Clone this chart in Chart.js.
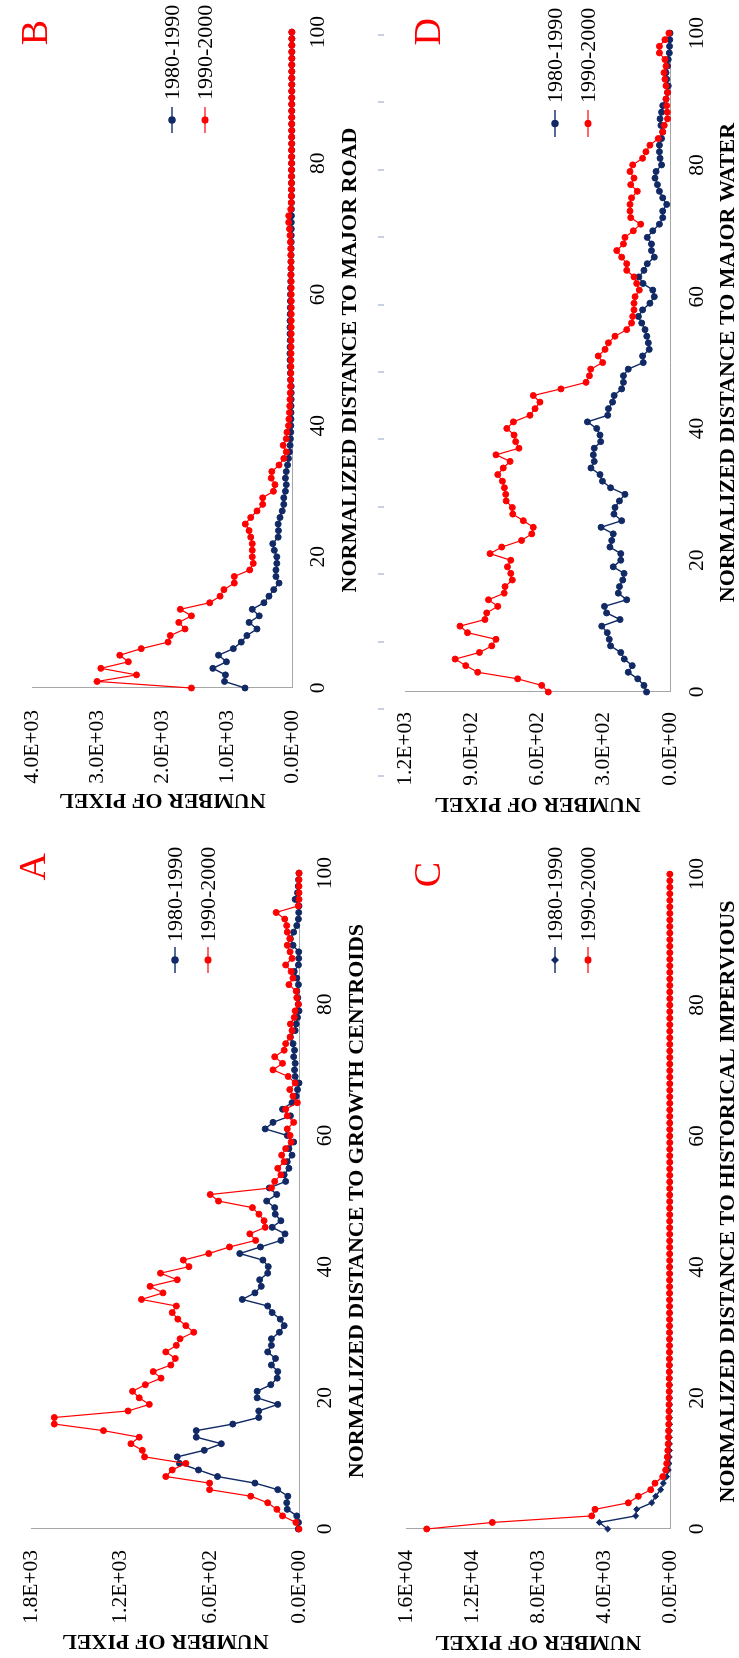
<!DOCTYPE html>
<html>
<head>
<meta charset="utf-8">
<title>Number of pixel by normalized distance</title>
<script src="https://cdn.jsdelivr.net/npm/chart.js@4.4.1/dist/chart.umd.min.js"></script>
<style>
  html, body { margin: 0; padding: 0; background: #fff; }
  body { width: 739px; height: 1658px; position: relative; overflow: hidden; }
  .panel { position: absolute; height: 817px; }
  /* every chart is drawn upright, then turned a quarter turn to the left like the scanned figure */
  .panel canvas { position: absolute; left: 0; top: 0; transform-origin: 0 0; transform: translate(0, 817px) rotate(-90deg); }
  .dashes { position: absolute; left: 378px; top: 34px; width: 6px; height: 746px;
    background: repeating-linear-gradient(to bottom, #c8d0e2 0px, #c8d0e2 2px, transparent 2px, transparent 67.4px); }
</style>
</head>
<body>
<div class="panel" style="left:0;top:0;width:370px"><canvas id="chartB" width="817" height="370"></canvas></div>
<div class="panel" style="left:370px;top:0;width:369px"><canvas id="chartD" width="817" height="369"></canvas></div>
<div class="panel" style="left:0;top:841px;width:370px"><canvas id="chartA" width="817" height="370"></canvas></div>
<div class="panel" style="left:370px;top:841px;width:369px"><canvas id="chartC" width="817" height="369"></canvas></div>
<div class="dashes"></div>
<script>
// normalized distance 0..100, one point per unit
const distance = Array.from({ length: 101 }, (_, i) => i);

// A - growth centroids
const growth1980 = [
  5, 3, 15, 79, 83, 75, 143, 297, 549, 677,
  805, 820, 638, 523, 692, 692, 446, 271, 271, 143,
  282, 282, 190, 147, 143, 186, 158, 211, 186, 186,
  132, 100, 126, 181, 211, 382, 297, 254, 265, 211,
  207, 243, 399, 260, 122, 94, 181, 122, 160, 164,
  218, 150, 200, 90, 100, 68, 79, 47, 68, 36,
  79, 228, 175, 58, 111, 47, 19, 10, 0, 26,
  30, 26, 36, 30, 40, 58, 26, 19, 10, 0,
  5, 8, 15, 4, 15, 32, 4, 2, 2, 40,
  58, 36, 15, 4, 2, 0, 26, 10, 5, 3,
  0
];
const growth1990 = [
  0, 21, 111, 149, 211, 325, 602, 602, 897, 854,
  762, 1040, 1055, 1132, 1076, 1317, 1648, 1648, 1151, 1008,
  1076, 1121, 1035, 929, 982, 863, 833, 897, 826, 801,
  709, 762, 816, 854, 826, 1061, 916, 1003, 820, 933,
  741, 779, 608, 468, 292, 331, 228, 235, 270, 314,
  542, 598, 186, 164, 122, 143, 100, 117, 90, 53,
  60, 79, 36, 79, 90, 11, 41, 62, 26, 73,
  175, 111, 164, 100, 90, 60, 47, 58, 32, 26,
  4, 15, 19, 68, 41, 53, 90, 47, 60, 79,
  62, 79, 83, 96, 154, 5, 0, 0, 0, 0,
  0
];

// B - major road
const road1980 = [
  725, 1041, 1027, 1221, 1012, 1134, 905, 783, 696, 540,
  662, 506, 613, 433, 355, 282, 200, 248, 248, 234,
  234, 272, 297, 214, 209, 214, 185, 151, 127, 127,
  102, 88, 102, 88, 68, 54, 39, 29, 25, 20,
  18, 16, 15, 14, 13, 12, 12, 22, 25, 28,
  30, 32, 30, 28, 30, 32, 30, 28, 26, 25,
  24, 22, 20, 18, 16, 15, 14, 13, 12, 11,
  10, 10, 9, 9, 8, 8, 7, 7, 6, 6,
  6, 5, 5, 5, 5, 4, 4, 4, 4, 4,
  3, 3, 3, 3, 3, 3, 2, 2, 2, 2,
  2
];
const road1990 = [
  1552, 3007, 2399, 2949, 2525, 2657, 2326, 1912, 1878, 1650,
  1747, 1552, 1723, 1270, 1109, 1051, 890, 890, 652, 598,
  613, 613, 613, 637, 662, 720, 637, 540, 453, 453,
  287, 263, 321, 311, 200, 126, 88, 136, 88, 78,
  54, 48, 40, 35, 30, 26, 22, 20, 18, 17,
  16, 15, 14, 14, 13, 13, 12, 12, 11, 11,
  12, 12, 13, 14, 15, 16, 18, 20, 24, 30,
  38, 52, 50, 20, 10, 9, 8, 8, 7, 7,
  6, 6, 6, 5, 5, 5, 5, 4, 4, 4,
  4, 4, 3, 3, 3, 3, 3, 3, 2, 2,
  2
];

// C - historical impervious
const impervious1980 = [
  3777, 4282, 2081, 2020, 1111, 869, 566, 404, 202, 101,
  60, 45, 35, 30, 26, 23, 20, 18, 16, 15,
  14, 13, 12, 12, 11, 11, 10, 10, 10, 9,
  9, 9, 8, 8, 8, 8, 7, 7, 7, 7,
  7, 6, 6, 6, 6, 6, 6, 5, 5, 5,
  5, 5, 5, 5, 5, 4, 4, 4, 4, 4,
  4, 4, 4, 4, 4, 3, 3, 3, 3, 3,
  3, 3, 3, 3, 3, 3, 3, 3, 2, 2,
  2, 2, 2, 2, 2, 2, 2, 2, 2, 2,
  2, 2, 2, 2, 1, 1, 1, 1, 1, 1,
  1
];
const impervious1990 = [
  14746, 10767, 4747, 4545, 2525, 1919, 1172, 909, 444, 263,
  202, 160, 130, 110, 95, 85, 75, 68, 62, 57,
  52, 48, 45, 42, 40, 38, 36, 34, 32, 31,
  30, 29, 28, 27, 26, 25, 25, 24, 24, 23,
  23, 22, 22, 21, 21, 20, 20, 20, 19, 19,
  18, 18, 18, 17, 17, 17, 16, 16, 16, 15,
  15, 15, 15, 14, 14, 14, 14, 13, 13, 13,
  13, 13, 12, 12, 12, 12, 12, 11, 11, 11,
  11, 11, 11, 10, 10, 10, 10, 10, 10, 10,
  9, 9, 9, 9, 9, 9, 9, 9, 8, 8,
  8
];

// D - major water
const water1980 = [
  106, 118, 146, 189, 171, 207, 223, 269, 275, 284,
  309, 226, 287, 297, 196, 234, 229, 214, 208, 257,
  223, 223, 272, 264, 257, 312, 219, 254, 249, 229,
  204, 269, 306, 317, 358, 343, 347, 343, 314, 317,
  332, 374, 282, 279, 260, 253, 219, 211, 211, 189,
  121, 124, 94, 98, 105, 113, 128, 143, 124, 91,
  71, 78, 122, 141, 118, 103, 71, 84, 84, 103,
  78, 48, 33, 33, 15, 33, 48, 57, 68, 63,
  38, 45, 48, 48, 38, 33, 41, 45, 38, 33,
  18, 11, 8, 15, 18, 11, 8, 3, 2, 1,
  0
];
const water1990 = [
  551, 581, 690, 871, 925, 973, 863, 807, 788, 917,
  951, 838, 830, 780, 822, 751, 747, 714, 721, 736,
  721, 815, 762, 672, 626, 619, 664, 712, 714, 742,
  744, 750, 759, 780, 755, 724, 788, 684, 699, 706,
  739, 709, 634, 611, 589, 619, 494, 380, 365, 359,
  305, 325, 294, 279, 249, 196, 174, 169, 163, 163,
  158, 139, 151, 163, 196, 196, 219, 241, 211, 204,
  166, 133, 178, 181, 181, 174, 148, 178, 163, 181,
  169, 124, 109, 91, 53, 33, 26, 11, 12, 15,
  18, 11, 18, 23, 27, 18, 23, 48, 48, 23,
  5
];

const seriesNames = ['1980-1990', '1990-2000'];

const BLUE = '#112a66';
const RED = '#ff0000';
const AXIS = '#a6a6a6';
const SERIF = '"Liberation Serif", "Times New Roman", serif';
const W = 817;

function sci(v) {
  const [m, e] = Number(v).toExponential(1).split('e');
  const n = Math.abs(parseInt(e, 10));
  return m + 'E' + (e[0] === '-' ? '-' : '+') + String(n).padStart(2, '0');
}

function toPoints(values) {
  return values.map((v, i) => ({ x: distance[i], y: v }));
}

// panel letter and the legend, drawn in the upright chart before it is turned
const decor = {
  id: 'decor',
  afterDraw(chart, args, opts) {
    const ctx = chart.ctx;
    ctx.save();
    ctx.fillStyle = RED;
    ctx.font = '38px ' + SERIF;
    ctx.textAlign = 'right';
    ctx.textBaseline = 'alphabetic';
    ctx.fillText(opts.letter, opts.letterX, opts.letterY);

    chart.data.datasets.forEach((ds, i) => {
      const y = opts.rows[i];
      ctx.strokeStyle = ds.borderColor;
      ctx.lineWidth = ds.borderWidth;
      ctx.beginPath();
      ctx.moveTo(opts.lineFrom, y);
      ctx.lineTo(opts.lineTo, y);
      ctx.stroke();
      Chart.helpers.drawPoint(ctx, {
        pointStyle: ds.pointStyle, radius: ds.pointRadius, borderWidth: 1, rotation: 0
      }, (opts.lineFrom + opts.lineTo) / 2, y);
      ctx.fillStyle = ds.borderColor;
      ctx.fill();
      ctx.fillStyle = '#000';
      ctx.font = '22px ' + SERIF;
      ctx.textAlign = 'left';
      ctx.textBaseline = 'middle';
      ctx.fillText(ds.label, opts.textAt, y + 1);
    });
    ctx.restore();
  }
};

function makeChart(p) {
  const H = p.height;
  const tickFont = { family: SERIF, size: 21.5, lineHeight: 1 };
  const titleFont = { family: SERIF, size: 22, weight: 'bold', lineHeight: 1 };
  return new Chart(document.getElementById(p.canvas), {
    type: 'line',
    data: {
      datasets: [
        {
          label: seriesNames[0], data: toPoints(p.older), order: 1,
          borderColor: BLUE, backgroundColor: BLUE, borderWidth: 1.4,
          pointStyle: p.olderMarker, pointRadius: 3, pointBorderWidth: 1,
          pointBackgroundColor: BLUE, pointBorderColor: BLUE, tension: 0, clip: false
        },
        {
          label: seriesNames[1], data: toPoints(p.newer), order: 0,
          borderColor: RED, backgroundColor: RED, borderWidth: 1.2,
          pointStyle: 'circle', pointRadius: 3, pointBorderWidth: 1,
          pointBackgroundColor: RED, pointBorderColor: RED, tension: 0, clip: false
        }
      ]
    },
    options: {
      responsive: false,
      animation: false,
      devicePixelRatio: 1,
      layout: { padding: { left: 0, top: p.area.top, right: W - p.area.right, bottom: 0 } },
      plugins: {
        legend: { display: false },
        tooltip: { enabled: false },
        decor: p.decor
      },
      scales: {
        x: {
          type: 'linear', min: 0, max: 100,
          ticks: { stepSize: 20, padding: p.xTickPad, font: tickFont, color: '#000', maxRotation: 0, autoSkip: false },
          grid: { display: false, drawTicks: false },
          border: { color: AXIS, width: 1 },
          title: { display: true, text: p.xTitle, font: titleFont, color: '#000', padding: { top: 0, bottom: p.xTitlePad } },
          afterFit: (s) => { s.height = H - p.area.bottom; }
        },
        y: {
          type: 'linear', min: 0, max: p.yMax,
          ticks: { stepSize: p.yStep, padding: p.yTickPad, font: tickFont, color: '#000', callback: sci },
          grid: { display: false, drawTicks: false },
          border: { color: AXIS, width: 1 },
          title: { display: true, text: 'NUMBER OF PIXEL', font: titleFont, color: '#000', padding: { top: p.yTitlePad, bottom: 0 } },
          afterFit: (s) => { s.width = p.area.left; }
        }
      }
    },
    plugins: [decor]
  });
}

makeChart({
  canvas: 'chartB', height: 370, older: road1980, newer: road1990, olderMarker: 'circle',
  yMax: 4000, yStep: 1000, xTitle: 'NORMALIZED DISTANCE TO MAJOR ROAD',
  area: { left: 129, right: 794, top: 18, bottom: 292 },
  xTickPad: 16, xTitlePad: 9, yTickPad: 22, yTitlePad: 6,
  decor: { letter: 'B', letterX: 797, letterY: 47, rows: [172, 205], lineFrom: 684, lineTo: 710, textAt: 717 }
});

makeChart({
  canvas: 'chartD', height: 369, older: water1980, newer: water1990, olderMarker: 'circle',
  yMax: 1200, yStep: 300, xTitle: 'NORMALIZED DISTANCE TO MAJOR WATER',
  area: { left: 125, right: 790, top: 35, bottom: 300 },
  xTickPad: 17, xTitlePad: 0, yTickPad: 20, yTitlePad: 2,
  decor: { letter: 'D', letterX: 799, letterY: 70, rows: [185, 218], lineFrom: 680, lineTo: 707, textAt: 714 }
});

makeChart({
  canvas: 'chartA', height: 370, older: growth1980, newer: growth1990, olderMarker: 'circle',
  yMax: 1800, yStep: 600, xTitle: 'NORMALIZED DISTANCE TO GROWTH CENTROIDS',
  area: { left: 129, right: 794, top: 18, bottom: 299 },
  xTickPad: 16, xTitlePad: 2, yTickPad: 21, yTitlePad: 6,
  decor: { letter: 'A', letterX: 805, letterY: 45, rows: [175, 208], lineFrom: 685, lineTo: 711, textAt: 716 }
});

makeChart({
  canvas: 'chartC', height: 369, older: impervious1980, newer: impervious1990, olderMarker: 'rectRot',
  yMax: 16000, yStep: 4000, xTitle: 'NORMALIZED DISTANCE TO HISTORICAL IMPERVIOUS',
  area: { left: 129, right: 795, top: 36, bottom: 300 },
  xTickPad: 17, xTitlePad: 0, yTickPad: 21, yTitlePad: 5,
  decor: { letter: 'C', letterX: 796, letterY: 70, rows: [185, 218], lineFrom: 685, lineTo: 711, textAt: 716 }
});
</script>
</body>
</html>
